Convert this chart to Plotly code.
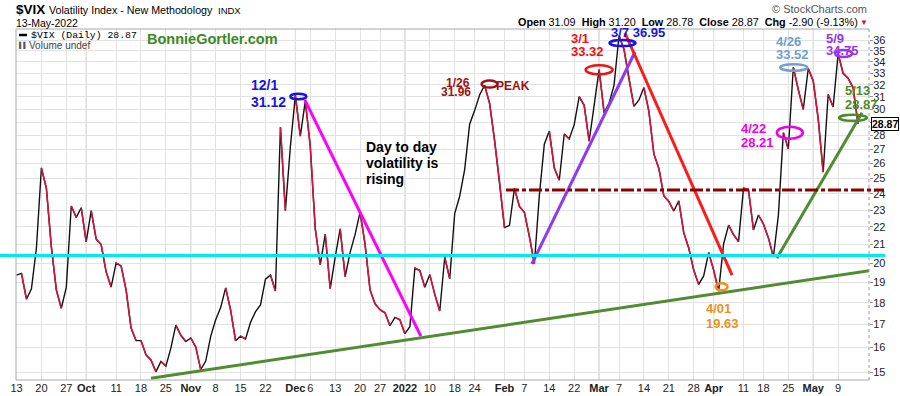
import numpy as np
import pandas as pd
import plotly.graph_objects as go

# ---------------- data ----------------
holidays = ["2021-11-25", "2021-12-24", "2022-01-17", "2022-02-21", "2022-04-15"]
dates = [d for d in pd.bdate_range("2021-09-13", "2022-05-13")
         if d.strftime("%Y-%m-%d") not in holidays]

closes = [
    # Sep 2021
    19.37, 19.46, 18.18, 18.69, 20.81, 25.71, 24.36, 20.87, 18.63, 17.75, 18.76, 23.25, 22.56, 23.14,
    # Oct
    21.15, 22.96, 21.30, 21.00, 19.54, 18.77, 20.00, 19.85, 18.64, 16.86, 16.30, 16.30, 15.70, 15.49,
    15.01, 15.43, 15.24, 15.98, 16.98, 16.53, 16.26,
    # Nov
    16.41, 16.03, 15.10, 15.44, 16.48, 17.22, 17.78, 18.73, 17.66, 16.29, 16.49, 16.37, 17.11, 17.59,
    17.91, 19.17, 19.38, 18.58, 28.62, 22.96, 27.19,
    # Dec
    31.12, 27.95, 30.67, 27.18, 21.89, 19.90, 21.58, 18.69, 20.31, 21.89, 19.29, 20.57, 21.57, 22.87,
    21.01, 18.63, 17.96, 17.68, 17.54, 16.95, 17.33, 17.22,
    # Jan 2022
    16.60, 16.91, 19.73, 19.61, 18.76, 19.40, 18.41, 17.62, 20.31, 19.19, 22.79, 23.85, 25.59, 28.85,
    29.90, 31.16, 31.96, 30.49, 27.66, 24.83,
    # Feb
    21.96, 22.09, 24.35, 23.22, 22.86, 21.44, 19.96, 23.91, 27.36, 28.33, 25.70, 24.88, 28.11, 27.75,
    28.81, 31.02, 30.32, 27.59, 30.15,
    # Mar
    33.32, 29.74, 30.48, 31.98, 36.45, 35.13, 32.45, 30.23, 30.75, 31.77, 29.83, 26.67, 25.67, 23.87,
    23.53, 22.94, 23.57, 21.67, 20.81, 19.63, 18.90, 19.33, 20.56,
    # Apr
    19.63, 18.57, 21.03, 22.10, 21.55, 21.16, 24.37, 24.26, 21.82, 22.70, 22.17, 21.37, 20.32, 22.68,
    28.21, 27.02, 33.52, 31.60, 29.99, 33.40,
    # May
    32.34, 29.25, 25.42, 31.20, 30.19, 34.75, 32.99, 32.56, 31.77, 28.87,
]

tick_dates = ["2021-09-13", "2021-09-20", "2021-09-27", "2021-10-01", "2021-10-11", "2021-10-18",
              "2021-10-25", "2021-11-01", "2021-11-08", "2021-11-15", "2021-11-22", "2021-12-01",
              "2021-12-06", "2021-12-13", "2021-12-20", "2021-12-27", "2022-01-03", "2022-01-10",
              "2022-01-18", "2022-01-24", "2022-02-01", "2022-02-07", "2022-02-14", "2022-02-22",
              "2022-03-01", "2022-03-07", "2022-03-14", "2022-03-21", "2022-03-28", "2022-04-01",
              "2022-04-11", "2022-04-18", "2022-04-25", "2022-05-02", "2022-05-09"]
tick_labels = ["13", "20", "27", "Oct", "11", "18", "25", "Nov", "8", "15", "22", "Dec", "6", "13",
               "20", "27", "2022", "10", "18", "24", "Feb", "7", "14", "22", "Mar", "7", "14", "21",
               "28", "Apr", "11", "18", "25", "May", "9"]
month_labels = ["Oct", "Nov", "Dec", "2022", "Feb", "Mar", "Apr", "May"]
y_ticks = list(range(15, 37))

# drawn trend lines: (trading-day index, value) endpoints
trend_green_long = ([27.0, 173.4], [14.76, 19.68])
trend_magenta = ([57.9, 81.2], [30.76, 16.49])
trend_purple = ([103.5, 124.2], [19.95, 34.9])
trend_red = ([122.2, 143.7], [36.69, 19.37])
trend_green_short = ([152.7, 169.8], [20.26, 29.73])
cyan_level = 20.4
dashdot_level = 24.25

# ellipses around annotated closes: (index, value, width px, height px, colour)
ellipses = [
    (56.6, 30.8, 16, 11, "#1515e6"),
    (95.0, 31.77, 16, 14, "#a01010"),
    (117.0, 32.9, 27, 18, "#ee1111"),
    (121.7, 35.45, 26, 12, "#1515e6"),
    (155.3, 27.76, 26, 24, "#ee00ee"),
    (156.1, 33.22, 27, 13, "#6fa0d0"),
    (166.1, 34.44, 17, 14, "#9933ee"),
    (168.0, 29.1, 28, 12, "#4a8c2a"),
    (141.6, 18.61, 12, 14, "#f0901a"),
]

# ---------------- figure ----------------
W, H = 900, 396
L, R, T, B = 16, 31, 29, 16
PW, PH = W - L - R, H - T - B


def px(x):
    return (x - L) / PW


def py(y):
    return (H - B - y) / PH


x = list(range(len(closes)))
date_str = [d.strftime("%Y-%m-%d") for d in dates]
tick_idx = [date_str.index(d) for d in tick_dates]
tick_text = [f"<b>{t}</b>" if t in month_labels else t for t in tick_labels]

BLACK = "#111111"
RED = "#d4143c"

fig = go.Figure()
fig.add_trace(go.Scatter(x=x, y=closes, mode="lines", line=dict(color=BLACK, width=1.4),
                         hoverinfo="skip"))
rx, ry = [], []
for i in range(len(closes) - 1):
    if closes[i + 1] < closes[i]:
        rx += [x[i], x[i + 1], None]
        ry += [closes[i], closes[i + 1], None]
fig.add_trace(go.Scatter(x=rx, y=ry, mode="lines", line=dict(color=RED, width=1.6),
                         hoverinfo="skip"))

for (tx, ty), col in [(trend_green_long, "#4f8c32"), (trend_magenta, "#ff00ff"),
                      (trend_purple, "#8c3cf0"), (trend_red, "#ff1a1a"),
                      (trend_green_short, "#4f8c32")]:
    fig.add_trace(go.Scatter(x=tx, y=ty, mode="lines", line=dict(color=col, width=3),
                             hoverinfo="skip"))

shapes = []
# month grid lines (darker)
for idx, lab in zip(tick_idx, tick_labels):
    if lab in month_labels:
        shapes.append(dict(type="line", xref="x", yref="paper", x0=idx, x1=idx, y0=0, y1=1,
                           line=dict(color="#bdbdbd", width=1), layer="below"))
# plot frame
shapes += [
    dict(type="line", xref="paper", yref="paper", x0=0, x1=1, y0=1, y1=1, line=dict(color="#a8a8a8", width=1)),
    dict(type="line", xref="paper", yref="paper", x0=0, x1=1, y0=0, y1=0, line=dict(color="#a8a8a8", width=1)),
    dict(type="line", xref="paper", yref="paper", x0=0, x1=0, y0=0, y1=1, line=dict(color="#a8a8a8", width=1)),
    dict(type="line", xref="paper", yref="paper", x0=1, x1=1, y0=0, y1=1,
         line=dict(color="#9a9a9a", width=1, dash="dot")),
]
# horizontal levels
shapes.append(dict(type="line", xref="paper", yref="y", x0=px(0), x1=px(885), y0=cyan_level,
                   y1=cyan_level, line=dict(color="#00e8f0", width=3)))
shapes.append(dict(type="line", xref="paper", yref="y", x0=px(506), x1=px(884), y0=dashdot_level,
                   y1=dashdot_level, line=dict(color="#8b0000", width=3, dash="13px,3px,4px,3px")))
# ellipses
for ex, ey, ew, eh, col in ellipses:
    shapes.append(dict(type="circle", xref="x", yref="y", xsizemode="pixel", ysizemode="pixel",
                       xanchor=ex, yanchor=ey, x0=-ew / 2, x1=ew / 2, y0=-eh / 2, y1=eh / 2,
                       line=dict(color=col, width=2.5)))
# legend dash
shapes.append(dict(type="line", xref="paper", yref="paper", x0=px(19), x1=px(27), y0=py(35), y1=py(35),
                   line=dict(color="#000", width=2.5)))

SANS = "Liberation Sans, Arial, sans-serif"
ann = []


def text(t, xp, yp, size, color="#000", anchor="left", family=SANS):
    ann.append(dict(text=t, x=px(xp), y=py(yp), xref="paper", yref="paper", showarrow=False,
                    xanchor=anchor, yanchor="middle", font=dict(size=size, color=color, family=family),
                    borderpad=0))


# header
text("<b>$VIX</b>", 15, 9, 13.5)
text("Volatility Index - New Methodology", 48, 10, 10.7)
text("INDX", 217, 10.5, 9.5)
text("13-May-2022", 15, 23, 10.5)
text("\u00a9 StockCharts.com", 868, 9.5, 11, "#555555", "right")
text("<b>Open</b> 31.09\u00a0\u00a0<b>High</b> 31.20\u00a0\u00a0<b>Low</b> 28.78\u00a0\u00a0"
     "<b>Close</b> 28.87\u00a0\u00a0<b>Chg</b> -2.90 (-9.13%)", 859, 22, 10.8, "#000", "right")
text("\u25bc", 864, 22.5, 8, "#d01020", "center")
# legend
text("$VIX (Daily) 28.87", 30, 35.5, 9.8, "#000", "left", "Liberation Mono, Courier New, monospace")
text("<b>\u258c\u258c</b>", 18, 45, 6, "#555")
text("Volume undef", 28, 45, 10, "#444")
text("<b>BonnieGortler.com</b>", 146, 38.5, 14.5, "#3a8a22")

# chart labels
BLUE, DKRED, RED2, MAG, LBLUE, PURP, GRN, ORG = ("#1515e6", "#a01010", "#ee1111", "#ee00ee",
                                                 "#6fa0d0", "#9933ee", "#4a8c2a", "#f0901a")
text("<b>12/1</b>", 250, 85.5, 14, BLUE)
text("<b>31.12</b>", 250, 101.7, 14, BLUE)
text("<b>Day to day</b>", 365, 146.5, 14)
text("<b>volatility is</b>", 365, 163, 14)
text("<b>rising</b>", 365, 179.5, 14)
text("<b>1/26</b>", 471, 82.5, 12, DKRED, "right")
text("<b>31.96</b>", 472, 92.5, 12, DKRED, "right")
text("<b>PEAK</b>", 495, 86.3, 12, DKRED)
text("<b>3/1</b>", 570, 38, 13, RED2)
text("<b>33.32</b>", 570, 51.7, 13, RED2)
text("<b>3/7 36.95</b>", 610, 32.5, 13, BLUE)
text("<b>4/26</b>", 775, 41.5, 13, LBLUE)
text("<b>33.52</b>", 775, 54.3, 13, LBLUE)
text("<b>5/9</b>", 825, 38, 13, PURP)
text("<b>34.75</b>", 825, 50, 13, PURP)
text("<b>4/22</b>", 740, 128.3, 13, MAG)
text("<b>28.21</b>", 740, 142, 13, MAG)
text("<b>4/01</b>", 705, 308, 13, ORG)
text("<b>19.63</b>", 705, 323, 13, ORG)
text("<b>5/13</b>", 844, 91, 13, GRN)
text("<b>28.87</b>", 844, 104.7, 13, GRN)

# last price tag on the axis
ann.append(dict(text="<b>28.87</b>", x=1, xref="paper", xshift=2, y=np.log10(closes[-1]), yref="y",
                showarrow=False, xanchor="left", yanchor="middle",
                font=dict(size=10.5, color="#000", family=SANS), bgcolor="#ffffff",
                bordercolor="#000000", borderwidth=1, borderpad=0))

fig.update_layout(
    width=W, height=H, autosize=False,
    margin=dict(l=L, r=R, t=T, b=B, pad=0, autoexpand=False),
    paper_bgcolor="#ffffff", plot_bgcolor="#ffffff",
    showlegend=False, shapes=shapes, annotations=ann,
    xaxis=dict(range=[-0.1, 171.2], tickvals=tick_idx, ticktext=tick_text, showgrid=True,
               gridcolor="#e2e2e2", gridwidth=1, zeroline=False, showline=False, ticks="",
               tickangle=0, automargin=False,
               tickfont=dict(size=11, color="#222", family=SANS), fixedrange=True),
    yaxis=dict(type="log", range=[np.log10(14.69), np.log10(37.08)], side="right",
               tickvals=y_ticks, ticktext=[str(v) for v in y_ticks], showgrid=True,
               gridcolor="#e2e2e2", gridwidth=1, zeroline=False, showline=False,
               ticks="outside", ticklen=3, tickcolor="#999", automargin=False,
               ticklabelstandoff=-2,
               tickfont=dict(size=11, color="#222", family=SANS), fixedrange=True),
)

fig.write_html("out.html", config={"displayModeBar": False},
               post_script="document.body.style.margin='0px';document.body.style.padding='0px';")
